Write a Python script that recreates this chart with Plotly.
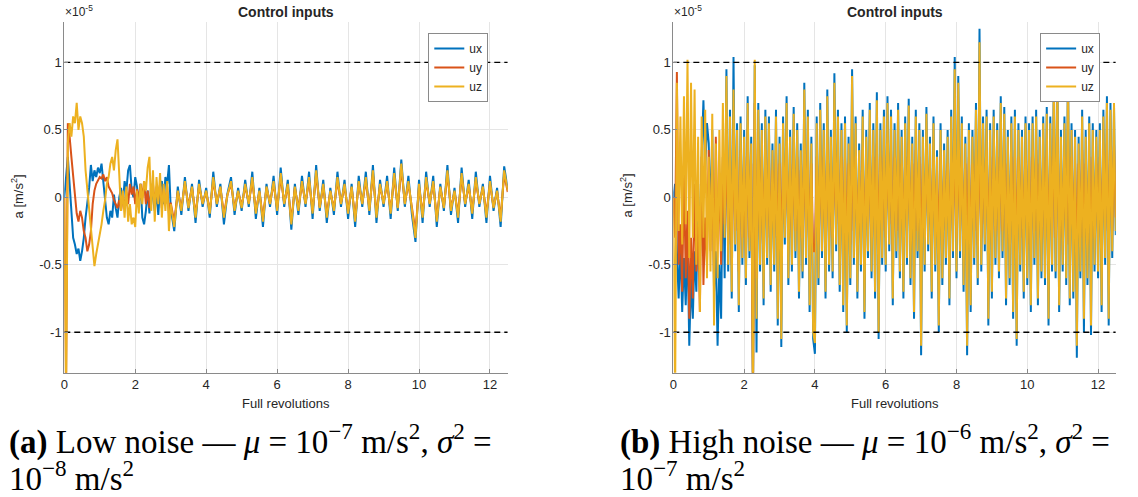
import numpy as np
import plotly.graph_objects as go

# ---------------- data (units of 1e-5 m/s^2) ----------------
series_names = ["ux", "uy", "uz"]
series_colors = ["#0072BD", "#D95319", "#EDB120"]
xticks = [0, 2, 4, 6, 8, 10, 12]
yticks = [-1, -0.5, 0, 0.5, 1]
ytick_text = ["-1", "-0.5", "0", "0.5", "1"]
limits = [1, -1]
x_range = [0, 12.5]
y_range = [-1.3, 1.3]

# Panel (a): low noise. fine sampling during transient, coarser afterwards
t_a_transient = list(np.round(np.arange(0, 3.0, 0.05), 2))
t_a_steady = list(np.round(np.arange(3.0, 12.55, 0.1), 2))

ux_a = [0.0, 0.15, 0.3, 0.1, -0.15, -0.3, -0.35, -0.42, -0.38, -0.47,
        -0.4, -0.3, -0.15, -0.05, 0.07, 0.24, 0.12, 0.2, 0.15, 0.22,
        0.18, 0.25, 0.1, -0.05, -0.15, -0.2, -0.1, -0.15, 0.02, -0.08,
        -0.15, 0.0, 0.07, -0.05, 0.12, 0.05, 0.2, 0.24, 0.05, 0.0,
        0.15, 0.08, -0.05, 0.1, -0.15, -0.2, -0.1, 0.05, -0.12, 0.1,
        0.0, -0.1, 0.05, -0.13, 0.08, 0.12, -0.05, 0.15, 0.1, 0.24,
        -0.08, -0.25, 0.08, -0.13, 0.15, -0.1, 0.1, -0.19, 0.13, -0.07,
        0.07, -0.15, 0.19, -0.07, 0.1, -0.2, 0.03, 0.15, -0.13, 0.07,
        -0.1, 0.13, -0.07, 0.19, -0.16, 0.07, -0.22, 0.1, -0.07, 0.16,
        -0.13, 0.22, -0.07, 0.13, -0.24, 0.1, -0.13, 0.16, -0.07, 0.19,
        -0.16, 0.24, -0.1, 0.13, -0.19, 0.07, -0.13, 0.19, -0.07, 0.13,
        -0.16, 0.1, -0.22, 0.16, -0.07, 0.19, -0.13, 0.24, -0.19, 0.13,
        -0.07, 0.16, -0.16, 0.22, -0.1, 0.28, -0.07, 0.16, -0.13, -0.33,
        0.13, -0.19, 0.19, -0.07, 0.16, -0.22, 0.1, -0.1, 0.24, -0.13,
        0.07, -0.19, 0.22, -0.07, 0.13, -0.16, 0.19, -0.07, 0.1, -0.19,
        0.16, -0.1, 0.07, -0.22, 0.23, 0.06]
uy_a = [0.0, -1.4, 0.55, 0.45, 0.3, 0.15, 0.0, -0.12, -0.18, -0.1,
        -0.15, -0.25, -0.3, -0.4, -0.35, -0.25, -0.05, 0.05, 0.1, 0.12,
        0.15, 0.14, 0.17, 0.12, 0.15, 0.08, 0.05, 0.03, -0.02, -0.05,
        -0.08, -0.02, -0.1, 0.0, -0.08, 0.05, -0.05, 0.1, 0.02, 0.08,
        -0.05, 0.06, -0.02, 0.1, 0.0, 0.12, -0.05, 0.05, -0.08, 0.03,
        0.1, -0.05, 0.08, -0.02, 0.1, -0.08, 0.06, -0.05, 0.08, -0.12,
        -0.04, -0.18, 0.04, -0.08, 0.1, -0.06, 0.07, -0.12, 0.08, -0.04,
        0.04, -0.1, 0.12, -0.04, 0.07, -0.12, 0.02, 0.1, -0.08, 0.04,
        -0.06, 0.08, -0.04, 0.12, -0.1, 0.04, -0.15, 0.07, -0.04, 0.1,
        -0.08, 0.15, -0.04, 0.08, -0.17, 0.07, -0.08, 0.1, -0.04, 0.12,
        -0.1, 0.17, -0.07, 0.08, -0.12, 0.04, -0.08, 0.12, -0.04, 0.08,
        -0.1, 0.07, -0.15, 0.1, -0.04, 0.12, -0.08, 0.17, -0.12, 0.08,
        -0.04, 0.1, -0.1, 0.15, -0.07, 0.21, -0.04, 0.1, -0.08, -0.25,
        0.08, -0.12, 0.12, -0.04, 0.1, -0.15, 0.07, -0.07, 0.17, -0.08,
        0.04, -0.12, 0.15, -0.04, 0.08, -0.1, 0.12, -0.04, 0.07, -0.12,
        0.1, -0.07, 0.04, -0.15, 0.17, 0.04]
uz_a = [0.0, -1.5, 0.4, 0.55, 0.45, 0.6, 0.55, 0.7, 0.5, 0.6,
        0.55, 0.45, 0.2, 0.05, -0.1, -0.25, -0.4, -0.51, -0.42, -0.35,
        -0.28, -0.2, -0.1, -0.02, 0.1, 0.15, 0.25, 0.3, 0.2, 0.35,
        0.43, 0.1, -0.1, 0.05, -0.15, 0.08, -0.18, -0.05, -0.2, -0.15,
        -0.22, 0.05, -0.12, 0.1, -0.05, 0.12, 0.05, 0.22, 0.3, -0.1,
        0.2, -0.18, 0.15, -0.05, 0.18, -0.15, 0.1, -0.1, 0.12, -0.25,
        -0.05, -0.22, 0.05, -0.1, 0.12, -0.08, 0.08, -0.15, 0.1, -0.05,
        0.05, -0.12, 0.15, -0.05, 0.08, -0.15, 0.02, 0.12, -0.1, 0.05,
        -0.08, 0.1, -0.05, 0.15, -0.12, 0.05, -0.18, 0.08, -0.05, 0.12,
        -0.1, 0.18, -0.05, 0.1, -0.2, 0.08, -0.1, 0.12, -0.05, 0.15,
        -0.12, 0.2, -0.08, 0.1, -0.15, 0.05, -0.1, 0.15, -0.05, 0.1,
        -0.12, 0.08, -0.18, 0.12, -0.05, 0.15, -0.1, 0.2, -0.15, 0.1,
        -0.05, 0.12, -0.12, 0.18, -0.08, 0.25, -0.05, 0.12, -0.1, -0.3,
        0.1, -0.15, 0.15, -0.05, 0.12, -0.18, 0.08, -0.08, 0.2, -0.1,
        0.05, -0.15, 0.18, -0.05, 0.1, -0.12, 0.15, -0.05, 0.08, -0.15,
        0.12, -0.08, 0.05, -0.18, 0.2, 0.05]

# Panel (b): high noise, uniform sampling
t_b = list(np.round(np.linspace(0, 12.5, 251), 2))
ux_b = [0.0, 0.1, -0.4, -0.75, -0.35, -0.85, -0.45, -0.8, -0.3, -1.1,
        -0.6, -0.9, -0.4, -0.7, 0.1, -0.5, 0.3, 0.72, 0.2, 0.55,
        0.4, -0.2, 0.5, -0.7, -0.4, -1.1, -0.5, -0.9, 0.3, -0.6,
        0.95, -0.55, 0.65, -0.75, 1.04, -0.4, 0.55, -0.85, 0.6, -0.5,
        0.5, -0.65, 0.75, -0.45, 0.45, -1.55, 0.98, -1.15, 0.7, -0.55,
        0.55, -0.8, 0.65, -0.5, 0.6, -0.7, 0.4, -0.55, 0.65, -0.95,
        0.45, -1.11, 0.6, -0.35, 0.75, -0.65, 0.5, -0.55, 0.67, -0.45,
        0.55, -0.75, 0.4, -0.6, 0.85, -0.5, 0.65, -0.85, 0.45, -1.05,
        -1.16, 0.6, -0.65, 0.7, -0.45, 0.55, -0.75, 0.8, -0.55, 0.5,
        -0.6, 0.92, -0.4, 0.65, -0.7, 0.55, -0.85, 0.6, -1.0, 0.45,
        -0.65, 0.95, -0.5, 0.6, -0.75, 0.4, -0.55, 0.65, -0.9, 0.5,
        -0.45, 0.7, -0.6, 0.55, -0.75, 0.78, -1.05, 0.55, -0.5, 0.65,
        -0.55, 0.75, -0.4, 0.65, -0.8, 0.55, -0.45, 0.7, -0.6, 0.5,
        -0.75, 0.6, -0.5, 0.73, -0.65, 0.45, -0.9, 0.65, -0.45, 0.55,
        -1.17, 0.5, -0.55, 0.67, -0.4, 0.45, -0.75, 0.6, -0.55, 0.35,
        -1.0, 0.55, -0.65, 0.4, -0.5, 0.5, -0.8, 0.65, -0.45, 1.04,
        -0.6, 0.9, -0.45, 0.6, -0.7, 0.45, -1.17, 0.55, -0.85, 0.5,
        -0.5, 0.7, -0.65, 1.25, -0.55, 0.6, -0.4, 0.65, -0.95, 0.55,
        -0.75, 0.65, -0.5, 0.55, -0.6, 0.75, -0.45, 0.67, -0.8, 0.5,
        -0.65, 0.6, -0.9, 0.65, -1.1, 0.55, -0.55, 0.5, -0.75, 0.6,
        -0.65, 0.55, -0.85, 0.6, -0.5, 0.65, -0.8, 0.5, -0.6, 0.6,
        -0.65, 0.67, -0.95, 0.6, -0.55, 0.9, -0.6, 0.95, -0.85, 0.5,
        -0.55, 0.6, -0.65, 1.0, -0.8, 0.55, -0.75, 0.5, -1.19, 0.45,
        -0.6, 0.65, -1.0, 0.5, -0.65, 0.6, -1.02, 0.55, -0.55, 0.5,
        -0.6, 0.55, -0.85, 0.65, -0.5, 0.75, -0.95, 0.7, -0.45, 0.68,
        -0.28]
uy_b = [0.0, -0.3, 0.93, -0.5, -0.2, -0.7, 0.2, -0.6, -0.1, -0.9,
        -0.3, -0.75, 0.1, -0.55, -0.2, -0.85, 0.3, -0.65, -0.15, -0.5,
        0.35, -0.4, 0.2, -0.6, 0.45, -0.3, 0.1, -0.5, 0.3, -0.2,
        0.4, -0.35, 0.3, -0.5, 0.45, -0.25, 0.3, -0.55, 0.35, -0.3,
        0.3, -0.45, 0.5, -0.3, 0.25, -1.45, 0.7, -0.6, 0.4, -0.35,
        0.3, -0.4, 0.35, -0.3, 0.3, -0.35, 0.2, -0.3, 0.35, -0.4,
        0.25, -0.4, 0.3, -0.2, 0.35, -0.3, 0.25, -0.3, 0.35, -0.25,
        0.3, -0.35, 0.2, -0.3, 0.4, -0.3, 0.35, -0.4, 0.25, -0.4,
        -0.4, 0.3, -0.35, 0.35, -0.25, 0.3, -0.35, 0.4, -0.3, 0.25,
        -0.3, 0.4, -0.2, 0.35, -0.35, 0.3, -0.4, 0.3, -0.4, 0.25,
        -0.35, 0.4, -0.25, 0.3, -0.35, 0.2, -0.3, 0.35, -0.4, 0.25,
        -0.25, 0.35, -0.3, 0.3, -0.35, 0.4, -0.4, 0.3, -0.25, 0.35,
        -0.3, 0.4, -0.2, 0.35, -0.4, 0.3, -0.25, 0.35, -0.3, 0.25,
        -0.35, 0.3, -0.25, 0.4, -0.35, 0.25, -0.4, 0.35, -0.25, 0.3,
        -0.4, 0.25, -0.3, 0.35, -0.2, 0.25, -0.35, 0.3, -0.3, 0.2,
        -0.4, 0.3, -0.35, 0.2, -0.25, 0.25, -0.4, 0.35, -0.25, 0.45,
        -0.3, 0.4, -0.25, 0.3, -0.35, 0.25, -0.4, 0.3, -0.4, 0.25,
        -0.25, 0.35, -0.35, 0.5, -0.3, 0.3, -0.2, 0.35, -0.4, 0.3,
        -0.35, 0.35, -0.25, 0.3, -0.3, 0.4, -0.25, 0.35, -0.35, 0.25,
        -0.35, 0.3, -0.4, 0.35, -0.45, 0.3, -0.3, 0.25, -0.35, 0.3,
        -0.35, 0.3, -0.4, 0.3, -0.25, 0.35, -0.35, 0.25, -0.3, 0.3,
        -0.35, 0.35, -0.4, 0.3, -0.3, 0.45, -0.3, 0.45, -0.4, 0.25,
        -0.3, 0.3, -0.35, 0.45, -0.35, 0.3, -0.35, 0.25, -0.45, 0.25,
        -0.3, 0.35, -0.4, 0.25, -0.35, 0.3, -0.4, 0.3, -0.3, 0.25,
        -0.3, 0.3, -0.4, 0.35, -0.25, 0.4, -0.4, 0.35, -0.25, 0.4,
        -0.15]
uz_b = [0.0, -1.5, 0.85, -0.25, 0.6, -0.35, 0.75, -0.2, 1.02, -0.45,
        0.85, -0.3, 0.8, -0.5, 0.45, -0.85, 0.6, -0.3, 0.65, -0.6,
        0.3, -0.55, 0.62, -0.95, 0.4, -0.6, 0.5, -0.4, 0.7, -0.3,
        0.9, -0.5, 0.6, -0.7, 0.8, -0.35, 0.5, -0.8, 0.55, -0.45,
        0.45, -0.6, 0.7, -0.4, 0.4, -1.5, 1.02, -0.9, 0.65, -0.5,
        0.5, -0.75, 0.6, -0.45, 0.55, -0.65, 0.35, -0.5, 0.6, -0.9,
        0.4, -1.05, 0.55, -0.3, 0.7, -0.6, 0.45, -0.5, 0.62, -0.4,
        0.5, -0.7, 0.35, -0.55, 0.8, -0.45, 0.6, -0.8, 0.4, -1.0,
        -1.08, 0.55, -0.6, 0.65, -0.4, 0.5, -0.7, 0.75, -0.5, 0.45,
        -0.55, 0.85, -0.35, 0.6, -0.65, 0.5, -0.8, 0.55, -0.95, 0.4,
        -0.6, 0.9, -0.45, 0.55, -0.7, 0.35, -0.5, 0.6, -0.85, 0.45,
        -0.4, 0.65, -0.55, 0.5, -0.7, 0.72, -1.0, 0.5, -0.45, 0.6,
        -0.5, 0.7, -0.35, 0.6, -0.75, 0.5, -0.4, 0.65, -0.55, 0.45,
        -0.7, 0.55, -0.45, 0.68, -0.6, 0.4, -0.85, 0.6, -0.4, 0.5,
        -1.1, 0.45, -0.5, 0.62, -0.35, 0.4, -0.7, 0.55, -0.5, 0.3,
        -0.95, 0.5, -0.6, 0.35, -0.45, 0.45, -0.75, 0.6, -0.4, 0.95,
        -0.55, 0.85, -0.4, 0.55, -0.65, 0.4, -1.1, 0.5, -0.8, 0.45,
        -0.45, 0.65, -0.6, 1.15, -0.5, 0.55, -0.35, 0.6, -0.9, 0.5,
        -0.7, 0.6, -0.45, 0.5, -0.55, 0.7, -0.4, 0.62, -0.75, 0.45,
        -0.6, 0.55, -0.85, 0.6, -1.05, 0.5, -0.5, 0.45, -0.7, 0.55,
        -0.6, 0.5, -0.8, 0.55, -0.45, 0.6, -0.75, 0.45, -0.55, 0.55,
        -0.6, 0.62, -0.9, 0.55, -0.5, 0.85, -0.55, 0.9, -0.8, 0.45,
        -0.5, 0.55, -0.6, 0.95, -0.75, 0.5, -0.7, 0.45, -1.1, 0.4,
        -0.55, 0.6, -0.9, 0.45, -0.6, 0.55, -0.95, 0.5, -0.5, 0.45,
        -0.55, 0.5, -0.8, 0.6, -0.45, 0.7, -0.9, 0.65, -0.4, 0.7,
        -0.25]

panel_titles = ["Control inputs", "Control inputs"]
x_label = "Full revolutions"
y_label = "a [m/s<sup>2</sup>]"
exp_label = "×10<sup>-5</sup>"
captions = [
    ["<b>(a)</b> Low noise — <i>μ</i> = 10<sup>−7</sup> m/s<sup>2</sup>, <i>σ</i><sup>2</sup> =",
     "10<sup>−8</sup> m/s<sup>2</sup>"],
    ["<b>(b)</b> High noise — <i>μ</i> = 10<sup>−6</sup> m/s<sup>2</sup>, <i>σ</i><sup>2</sup> =",
     "10<sup>−7</sup> m/s<sup>2</sup>"],
]

# ---------------- figure ----------------
W, H = 1138, 497
fig = go.Figure()

t_a = t_a_transient + t_a_steady
panels = [
    (t_a, [ux_a, uy_a, uz_a], "x", "y", "legend"),
    (t_b, [ux_b, uy_b, uz_b], "x2", "y2", "legend2"),
]
for t, vals, xa, ya, lg in panels:
    for name, color, v in zip(series_names, series_colors, vals):
        fig.add_trace(go.Scatter(x=t, y=v, mode="lines", name=name,
                                 line=dict(color=color, width=2.0),
                                 xaxis=xa, yaxis=ya, legend=lg))
    for lim in limits:
        fig.add_trace(go.Scatter(x=x_range, y=[lim, lim], mode="lines",
                                 line=dict(color="black", width=1.3, dash="6px,4px"),
                                 xaxis=xa, yaxis=ya, showlegend=False, hoverinfo="skip"))

# pixel geometry
def px(x):
    return x / W

def py(y):
    return 1 - y / H

left_dom = [px(60.5), px(505.5)]
right_dom = [px(671.7), px(1115.7)]
y_dom = [py(372.7), py(22)]

tick_font = dict(family="Liberation Sans, Arial, sans-serif", size=13, color="#262626")
axis_common = dict(showline=True, linecolor="#8a8a8a", linewidth=1, mirror=False,
                   showgrid=True, gridcolor="#e5e5e5", gridwidth=1, zeroline=False,
                   ticks="inside", ticklen=4, tickcolor="#8a8a8a", tickfont=tick_font)

legend_common = dict(xanchor="right", yanchor="top",
                     bgcolor="white", bordercolor="#8a8a8a", borderwidth=1,
                     font=dict(family="Liberation Sans, Arial, sans-serif", size=12, color="#262626"),
                     tracegroupgap=0, itemwidth=30)

fig.update_layout(
    width=W, height=H,
    margin=dict(l=0, r=0, t=0, b=0),
    paper_bgcolor="white", plot_bgcolor="white",
    xaxis=dict(domain=left_dom, range=x_range, tickvals=xticks, anchor="y", **axis_common),
    yaxis=dict(domain=y_dom, range=y_range, tickvals=yticks, ticktext=ytick_text, anchor="x",
               ticklabelstandoff=-1, **axis_common),
    xaxis2=dict(domain=right_dom, range=x_range, tickvals=xticks, anchor="y2", **axis_common),
    yaxis2=dict(domain=y_dom, range=y_range, tickvals=yticks, ticktext=ytick_text, anchor="x2",
                ticklabelstandoff=-1, **axis_common),
    legend=dict(x=px(486), y=py(33), **legend_common),
    legend2=dict(x=px(1100), y=py(33), **legend_common),
    showlegend=True,
)

ann = []
label_font = dict(family="Liberation Sans, Arial, sans-serif", size=13, color="#262626")
cap_font = dict(family="Liberation Serif, Times New Roman, serif", size=33, color="black")
for (x0, x1), title, cap, cap_x in zip([(60.5, 505.5), (671.7, 1115.7)], panel_titles, captions, [3, 616]):
    cx = (x0 + x1) / 2
    ann.append(dict(text="<b>" + title + "</b>", x=px(cx), y=py(12), xref="paper", yref="paper",
                    showarrow=False, xanchor="center", yanchor="middle",
                    font=dict(family="Liberation Sans, Arial, sans-serif", size=14, color="#262626")))
    ann.append(dict(text=exp_label, x=px(x0 - 1), y=py(11), xref="paper", yref="paper",
                    showarrow=False, xanchor="left", yanchor="middle",
                    font=dict(family="Liberation Sans, Arial, sans-serif", size=12, color="#262626")))
    ann.append(dict(text=x_label, x=px(cx), y=py(403), xref="paper", yref="paper",
                    showarrow=False, xanchor="center", yanchor="middle", font=label_font))
    ann.append(dict(text=y_label, x=px(x0 - 47), y=py(196), xref="paper", yref="paper",
                    showarrow=False, xanchor="center", yanchor="middle", textangle=-90, font=label_font))
    ann.append(dict(text=cap[0], x=px(cap_x), y=py(439), xref="paper", yref="paper",
                    showarrow=False, xanchor="left", yanchor="middle", align="left", font=cap_font))
    ann.append(dict(text=cap[1], x=px(cap_x), y=py(476), xref="paper", yref="paper",
                    showarrow=False, xanchor="left", yanchor="middle", align="left", font=cap_font))
fig.update_layout(annotations=ann)

fig.write_html("out.html", config={"displayModeBar": False},
               post_script="document.body.style.margin='0';document.body.style.padding='0';")
